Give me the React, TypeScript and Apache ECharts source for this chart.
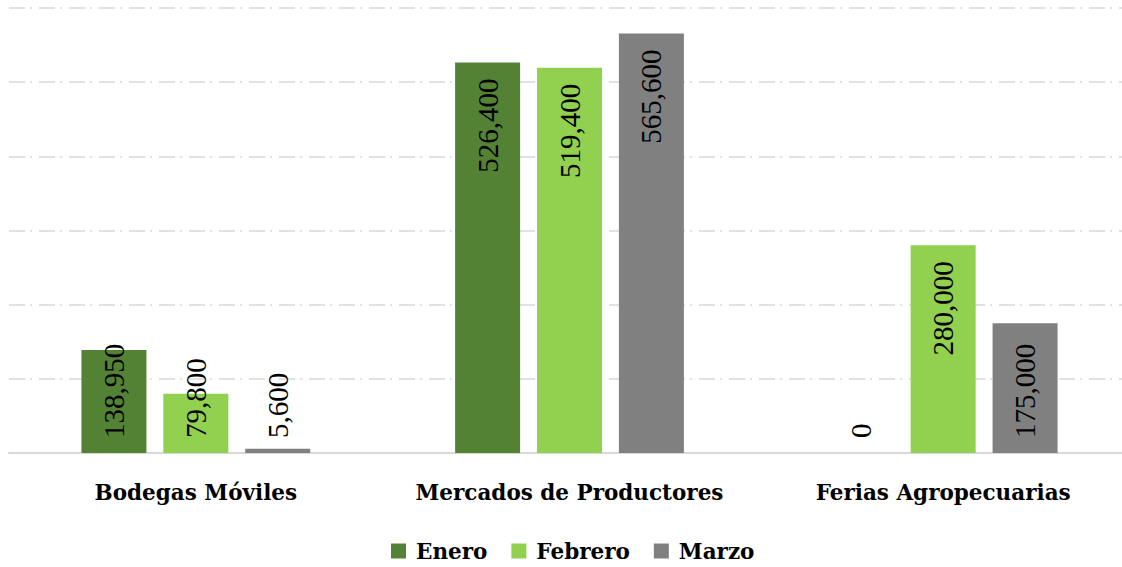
import React, { useEffect, useRef } from "react";
import * as echarts from "echarts";

const categories = ["Bodegas Móviles", "Mercados de Productores", "Ferias Agropecuarias"];
const seriesNames = ["Enero", "Febrero", "Marzo"];
const enero = [138950, 526400, 0];
const febrero = [79800, 519400, 280000];
const marzo = [5600, 565600, 175000];
const colors = ["#548235", "#92D050", "#808080"];
const yTicks = [0, 100000, 200000, 300000, 400000, 500000, 600000];

const fmt = (v: number) => v.toLocaleString("en-US");

export default function App() {
  const ref = useRef<HTMLDivElement>(null);
  useEffect(() => {
    if (!ref.current) return;
    const chart = echarts.init(ref.current, null, { renderer: "svg" });
    const labelFont = "Liberation Serif, serif";
    const axisFont = "DejaVu Serif";
    const makeData = (vals: number[]) =>
      vals.map((v) => {
        const big = v > 200000;
        return {
          value: v,
          label: big
            ? { position: "insideTop", distance: 16, align: "right", verticalAlign: "middle", fontFamily: labelFont }
            : { position: "insideBottom", distance: 15, align: "left", verticalAlign: "middle", fontFamily: labelFont },
        };
      });
    const all = [enero, febrero, marzo];
    chart.setOption({
      animation: false,
      grid: { left: 9, width: 1121, top: 8, bottom: 114 },
      legend: {
        bottom: 0,
        left: 386,
        itemWidth: 15,
        itemHeight: 15,
        itemGap: 24,
        icon: "rect",
        textStyle: { fontFamily: axisFont, fontWeight: "bold", fontSize: 21.5, color: "#000", padding: [0, 0, 0, 5] },
        data: seriesNames,
      },
      xAxis: {
        type: "category",
        data: categories,
        axisTick: { show: false },
        axisLine: { lineStyle: { color: "#d9d9d9", width: 2 } },
        axisLabel: { interval: 0, margin: 28, fontFamily: axisFont, fontWeight: "bold", fontSize: 21.5, color: "#000" },
      },
      yAxis: {
        type: "value",
        min: yTicks[0],
        max: yTicks[yTicks.length - 1],
        interval: 100000,
        axisLabel: { show: false },
        axisLine: { show: false },
        axisTick: { show: false },
        splitLine: { lineStyle: { color: "#d9d9d9", width: 1.5, type: [16, 5, 2, 7] } },
      },
      series: seriesNames.map((name, i) => ({
        name,
        type: "bar",
        barWidth: 65,
        barGap: "26%",
        itemStyle: { color: colors[i] },
        label: {
          show: true,
          rotate: 90,
          fontFamily: labelFont,
          fontSize: 29,
          color: "#000",
          formatter: (p: any) => fmt(p.value),
        },
        data: makeData(all[i]),
      })),
    });
    return () => chart.dispose();
  }, []);
  return (
    <div style={{ position: "fixed", left: 0, top: 0, width: 1122, height: 567, overflow: "hidden", background: "#fff" }}>
      <div ref={ref} style={{ width: 1140, height: 567 }} />
    </div>
  );
}
